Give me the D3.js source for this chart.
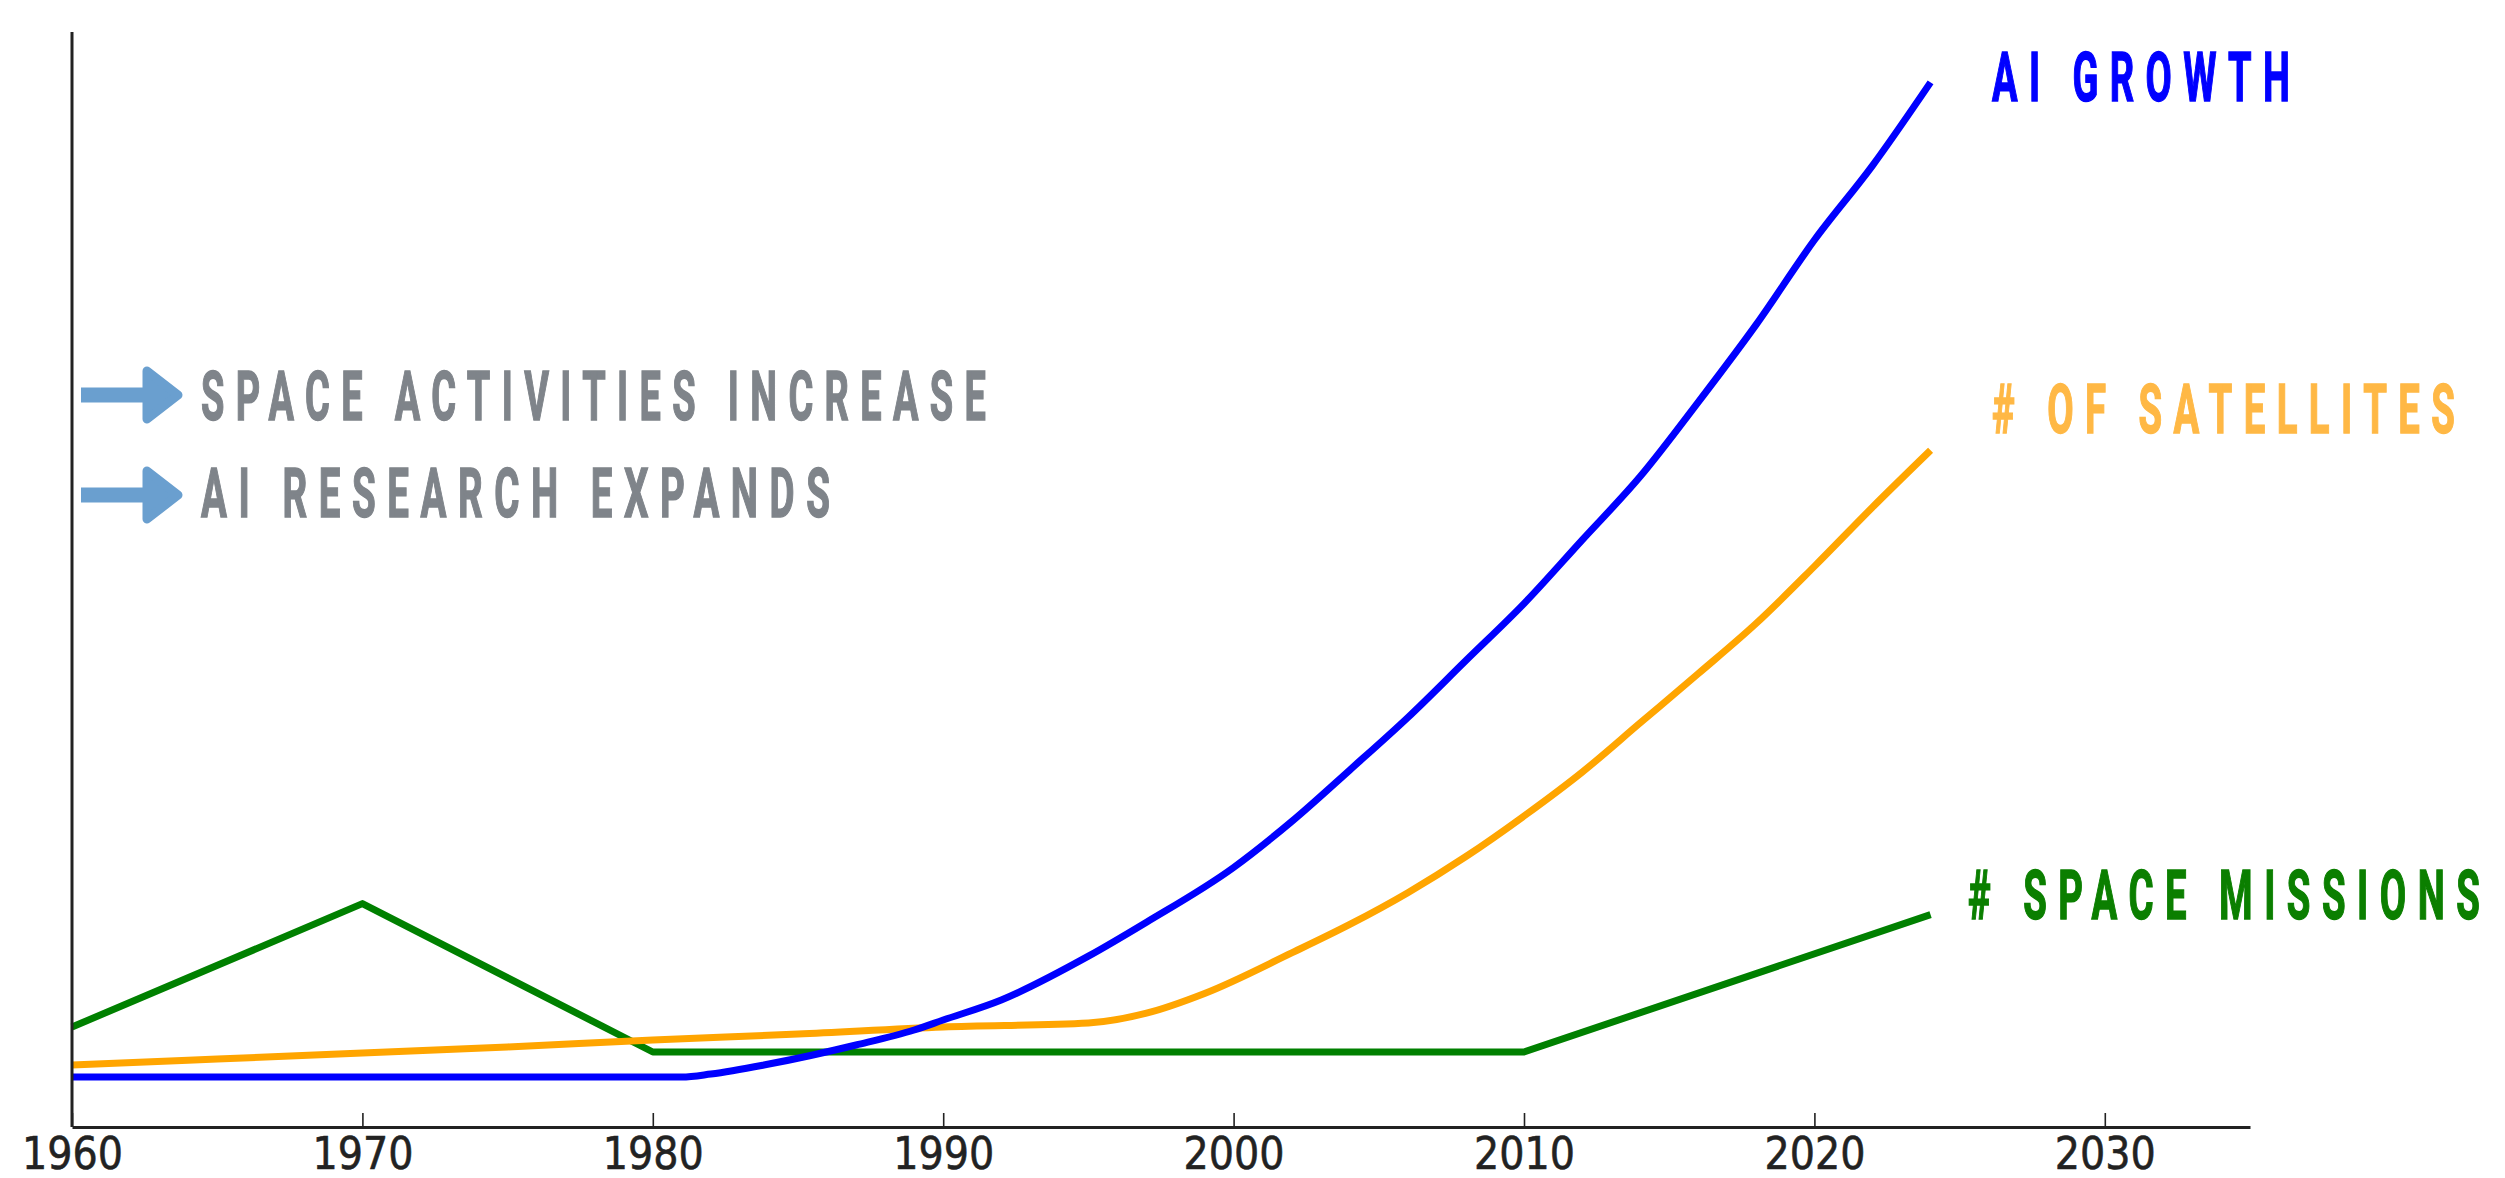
<!DOCTYPE html>
<html>
<head>
<meta charset="utf-8">
<script src="https://cdn.jsdelivr.net/npm/d3@7"></script>
<style>
  html, body { margin: 0; padding: 0; background: #ffffff; }
  svg { display: block; }
</style>
</head>
<body>
<svg id="chart" width="2505" height="1178"></svg>
<script>
// ---- data ----
const xTicks = [1960, 1970, 1980, 1990, 2000, 2010, 2020, 2030];

const aiYears  = [1960, 1981, 1982, 1984, 1987, 1989, 1990, 1992, 1995, 1997, 2000, 2002,
                  2004, 2006, 2008, 2010, 2012, 2014, 2016, 2018, 2020, 2022, 2024];
const aiGrowth = [4.57, 4.57, 4.84, 5.75, 7.49, 8.86, 9.77, 11.6, 15.6, 18.7, 23.7, 27.9,
                  32.6, 37.4, 42.6, 47.8, 53.6, 59.4, 66.2, 73.3, 81.0, 87.8, 95.4];

const satYears   = [1960, 1965, 1970, 1975, 1980, 1985, 1990, 1995, 1997, 1999, 2002,
                    2004, 2006, 2008, 2010, 2012, 2014, 2016, 2018, 2020, 2022, 2024];
const satellites = [5.66, 6.21, 6.76, 7.31, 7.95, 8.49, 9.13, 9.50, 10.4, 12.2, 15.9,
                    18.5, 21.4, 24.7, 28.4, 32.4, 36.9, 41.4, 46.0, 51.2, 56.6, 61.8];

const missionYears = [1960, 1970, 1980, 2010, 2024];
const missions     = [9.13, 20.4, 6.85, 6.85, 19.4];

const seriesLabels = ["AI GROWTH", "# OF SATELLITES", "# SPACE MISSIONS"];
const notes = ["SPACE ACTIVITIES INCREASE", "AI RESEARCH EXPANDS"];

// ---- scales ----
const svg = d3.select("#chart");
const x = d3.scaleLinear().domain([1960, 2035]).range([72, 2250]);
const y = d3.scaleLinear().domain([0, 100]).range([1127, 32]);

// ---- series lines (drawn back to front) ----
const series = [
  { yrs: missionYears, vals: missions,   color: "#008000", curve: d3.curveLinear },
  { yrs: satYears,     vals: satellites, color: "#ffa500", curve: d3.curveMonotoneX },
  { yrs: aiYears,      vals: aiGrowth,   color: "#0000ff", curve: d3.curveMonotoneX }
];
series.forEach(s => {
  const line = d3.line().x(d => x(d[0])).y(d => y(d[1])).curve(s.curve);
  svg.append("path")
    .datum(d3.zip(s.yrs, s.vals))
    .attr("d", line)
    .attr("fill", "none")
    .attr("stroke", s.color)
    .attr("stroke-width", 7)
    .attr("stroke-linejoin", "round")
    .attr("stroke-linecap", "butt");
});

// ---- axes ----
const xAxis = d3.axisBottom(x).tickValues(xTicks).tickFormat(d3.format("d"))
  .tickSizeInner(-14).tickSizeOuter(0);
const gx = svg.append("g").attr("transform", "translate(0,1127)").call(xAxis);
gx.select(".domain").attr("stroke", "#222").attr("stroke-width", 3);
gx.selectAll(".tick line").attr("stroke", "#222").attr("stroke-width", 1.6);
gx.selectAll(".tick text")
  .attr("y", 42).attr("dy", 0)
  .attr("fill", "#222")
  .attr("stroke", "#222")
  .attr("stroke-width", 0.6)
  .attr("font-family", "'DejaVu Sans', sans-serif")
  .attr("font-size", 44)
  .attr("textLength", 101)
  .attr("lengthAdjust", "spacingAndGlyphs");

svg.append("line")
  .attr("x1", x(1960)).attr("x2", x(1960))
  .attr("y1", y(100)).attr("y2", y(0))
  .attr("stroke", "#222").attr("stroke-width", 3);

// ---- tall condensed caption text ----
function caption(str, left, baseline, width, color) {
  const fs = 69;
  const ls = 0.3 * fs;
  const t = svg.append("text")
    .attr("font-family", "Roboto, 'Open Sans', sans-serif")
    .attr("font-weight", 700)
    .attr("font-size", fs)
    .attr("letter-spacing", ls)
    .attr("fill", color)
    .attr("stroke", color)
    .attr("stroke-width", 1.5)
    .text(str);
  const bb = t.node().getBBox();
  const w = bb.width - ls;
  const s = width / w;
  t.attr("transform", `translate(${left},${baseline - 0.75}) scale(${s},1) translate(${-bb.x},0)`);
}

caption(seriesLabels[0], 1992, 102, 298, "#0000ff");
caption(seriesLabels[1], 1992, 434, 463, "#ffb845");
caption(seriesLabels[2], 1968, 920, 512, "#0b7f00");

caption(notes[0], 201, 421, 785, "#7f848a");
caption(notes[1], 201, 518, 629, "#7f848a");

// ---- arrows in front of the notes ----
function arrow(cy) {
  const g = svg.append("g").attr("fill", "#6a9fcf").attr("stroke", "#6a9fcf");
  g.append("rect").attr("x", 81).attr("y", cy - 7.5).attr("width", 66).attr("height", 15).attr("stroke", "none");
  g.append("path")
    .attr("d", `M147,${cy - 24} L178,${cy} L147,${cy + 24} Z`)
    .attr("stroke-width", 9)
    .attr("stroke-linejoin", "round");
}
arrow(395);
arrow(495);
</script>
</body>
</html>
